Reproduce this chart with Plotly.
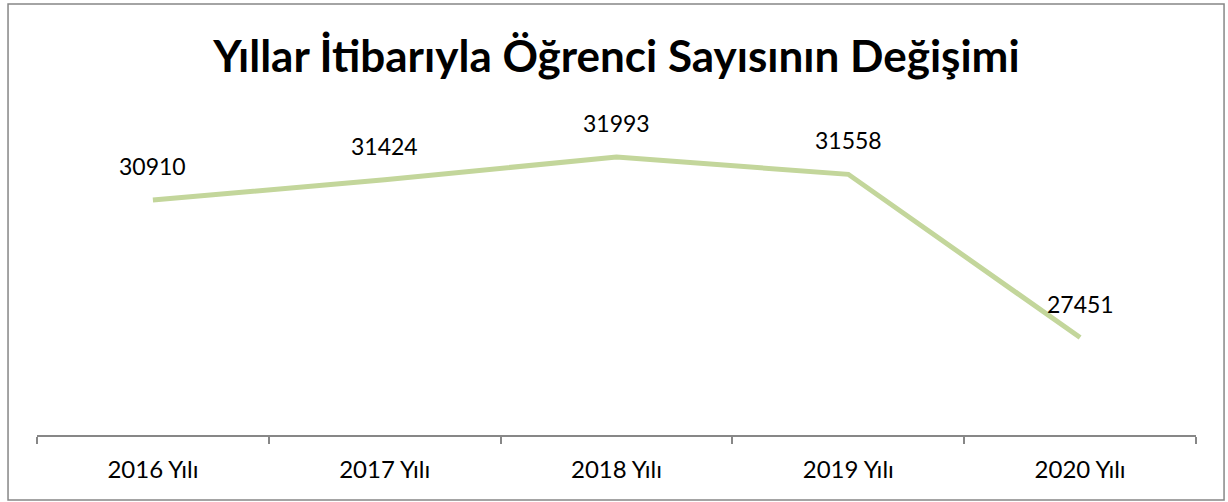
"""Line chart: student count by year."""
import plotly.graph_objects as go

years = ["2016 Yılı", "2017 Yılı", "2018 Yılı", "2019 Yılı", "2020 Yılı"]
students = [30910, 31424, 31993, 31558, 27451]

TITLE = "Yıllar İtibarıyla Öğrenci Sayısının Değişimi"
FONT = "Lato, 'Open Sans', sans-serif"
LINE_COLOR = "#C3D69B"
AXIS_COLOR = "#878787"

fig = go.Figure()

fig.add_trace(
    go.Scatter(
        x=years,
        y=students,
        mode="lines",
        line={"color": LINE_COLOR, "width": 5},
        hovertemplate="%{x}: %{y}<extra></extra>",
        showlegend=False,
    )
)

# value labels above each point
annotations = [
    dict(
        x=x,
        y=y,
        text=str(y),
        showarrow=False,
        yshift=34,
        font={"family": FONT, "size": 23, "color": "#000000"},
    )
    for x, y in zip(years, students)
]

fig.update_layout(
    width=1228,
    height=502,
    margin=dict(l=37, r=32, t=117, b=67),
    paper_bgcolor="white",
    plot_bgcolor="white",
    title=dict(
        text=TITLE,
        x=0.5,
        xanchor="center",
        xref="paper",
        yref="container",
        y=0.888,
        yanchor="middle",
        font={"family": FONT, "size": 44, "color": "#000000", "weight": "bold"},
    ),
    xaxis=dict(
        type="category",
        range=[-0.5, 4.5],
        showline=True,
        linecolor=AXIS_COLOR,
        linewidth=1.5,
        ticks="outside",
        tickson="boundaries",
        ticklen=7,
        tickcolor=AXIS_COLOR,
        tickwidth=1.5,
        showgrid=False,
        zeroline=False,
        tickfont={"family": FONT, "size": 24, "color": "#000000"},
        ticklabelstandoff=12,
    ),
    yaxis=dict(visible=False, range=[25000, 33000], showgrid=False),
    annotations=annotations,
    shapes=[
        # outer chart border
        dict(
            type="rect",
            xref="paper",
            yref="paper",
            x0=-0.025,
            x1=1.0242,
            y0=-0.2044,
            y1=1.3553,
            line={"color": AXIS_COLOR, "width": 1.5},
            layer="below",
        )
    ],
)

# drop the default body margin so the figure fills the window
fig.write_html(
    "out.html",
    config={"displayModeBar": False},
    post_script="document.body.style.margin = '0';",
)
